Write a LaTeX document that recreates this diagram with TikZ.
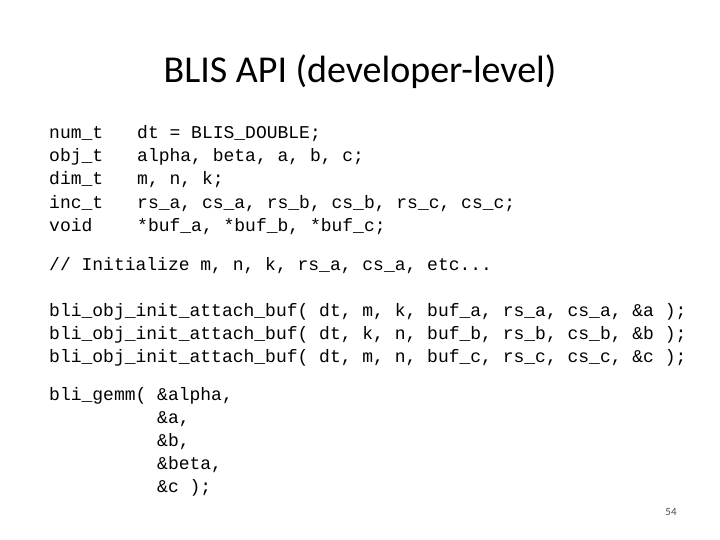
\documentclass[tikz,border=0pt]{standalone}
\usepackage{fontspec}
\setmainfont{Carlito}
\setmonofont{Liberation Mono}
\begin{document}
\begin{tikzpicture}[x=1pt,y=-1pt,
  code/.style={anchor=base west,inner sep=0pt,yshift=-6pt,font=\fontsize{18}{18}\selectfont\ttfamily},
  ttl/.style={font=\fontsize{38}{38}\selectfont}]
\useasboundingbox (0,0) rectangle (720,540);
\node[ttl] (title) at (360,72) {BLIS API (developer-level)};
\node[code] (t1) at (49,133) {num\_t};
\node[code] (t2) at (49,156) {obj\_t};
\node[code] (t3) at (49,179) {dim\_t};
\node[code] (t4) at (49,202) {inc\_t};
\node[code] (t5) at (49,225) {void};
\node[code] (v1) at (137,133) {dt = BLIS\_DOUBLE;};
\node[code] (v2) at (137,156) {alpha, beta, a, b, c;};
\node[code] (v3) at (137,179) {m, n, k;};
\node[code] (v4) at (137,202) {rs\_a, cs\_a, rs\_b, cs\_b, rs\_c, cs\_c;};
\node[code] (v5) at (137,225) {*buf\_a, *buf\_b, *buf\_c;};
\node[code] (c0) at (49,264) {// Initialize m, n, k, rs\_a, cs\_a, etc...};
\node[code] (o1) at (49,310) {bli\_obj\_init\_attach\_buf( dt, m, k, buf\_a, rs\_a, cs\_a, \&a );};
\node[code] (o2) at (49,333) {bli\_obj\_init\_attach\_buf( dt, k, n, buf\_b, rs\_b, cs\_b, \&b );};
\node[code] (o3) at (49,356) {bli\_obj\_init\_attach\_buf( dt, m, n, buf\_c, rs\_c, cs\_c, \&c );};
\node[code] (g1) at (49,394) {bli\_gemm( \&alpha,};
\node[code] (g2) at (157,417) {\&a,};
\node[code] (g3) at (157,440) {\&b,};
\node[code] (g4) at (157,463) {\&beta,};
\node[code] (g5) at (157,486) {\&c );};
\node[font=\fontsize{11}{11}\selectfont,text=black!70] (pg) at (671,512) {54};
\end{tikzpicture}
\end{document}
